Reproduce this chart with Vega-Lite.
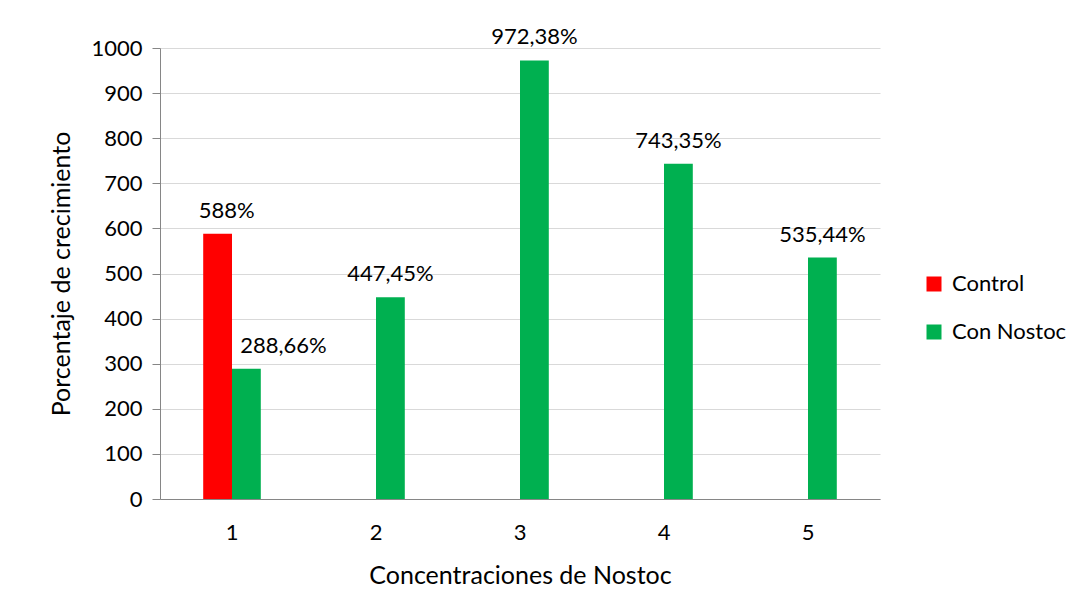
{
  "$schema": "https://vega.github.io/schema/vega-lite/v6.json",
  "width": 720,
  "height": 451,
  "autosize": {"type": "none"},
  "padding": {"left": 160, "top": 48, "right": 212, "bottom": 108},
  "background": "white",
  "config": {
    "font": "Lato",
    "view": {"stroke": null},
    "axis": {"labelFont": "Lato", "titleFont": "Lato", "labelColor": "#000", "titleColor": "#000", "titleFontWeight": "normal"}
  },
  "data": {
    "values": [
      {"conc": "1", "serie": "Control", "valor": 588, "etiqueta": "588%"},
      {"conc": "1", "serie": "Con Nostoc", "valor": 288.66, "etiqueta": "288,66%"},
      {"conc": "2", "serie": "Con Nostoc", "valor": 447.45, "etiqueta": "447,45%"},
      {"conc": "3", "serie": "Con Nostoc", "valor": 972.38, "etiqueta": "972,38%"},
      {"conc": "4", "serie": "Con Nostoc", "valor": 743.35, "etiqueta": "743,35%"},
      {"conc": "5", "serie": "Con Nostoc", "valor": 535.44, "etiqueta": "535,44%"}
    ]
  },
  "encoding": {
    "x": {
      "field": "conc", "type": "nominal",
      "scale": {"paddingInner": 0.6, "paddingOuter": 0.3},
      "axis": {
        "title": "Concentraciones de Nostoc", "labelAngle": 0, "labelFontSize": 22, "titleFontSize": 25,
        "ticks": false, "labelPadding": 23, "titlePadding": 20, "domainColor": "#868686", "grid": false
      }
    },
    "xOffset": {"field": "serie", "type": "nominal", "scale": {"domain": ["Control", "Con Nostoc"]}},
    "y": {
      "field": "valor", "type": "quantitative",
      "scale": {"domain": [0, 1000]},
      "axis": {
        "title": "Porcentaje de crecimiento", "values": [0,100,200,300,400,500,600,700,800,900,1000], "format": "d",
        "labelFontSize": 22, "titleFontSize": 25, "tickSize": 8, "tickColor": "#868686",
        "domainColor": "#868686", "gridColor": "#d9d9d9", "labelPadding": 10, "titlePadding": 16
      }
    }
  },
  "layer": [
    {
      "mark": {"type": "bar"},
      "encoding": {
        "color": {
          "field": "serie", "type": "nominal",
          "scale": {"domain": ["Control", "Con Nostoc"], "range": ["#ff0000", "#00b050"]},
          "legend": {
            "title": null, "orient": "none", "legendX": 763, "legendY": 225,
            "symbolType": "square", "symbolSize": 225, "symbolStrokeWidth": 0,
            "labelFontSize": 22, "labelFont": "Lato", "labelColor": "#000", "rowPadding": 26, "labelOffset": 7
          }
        }
      }
    },
    {
      "transform": [{"filter": "datum.conc != '1'"}],
      "mark": {"type": "text", "baseline": "bottom", "dy": -11, "fontSize": 22},
      "encoding": {"text": {"field": "etiqueta"}}
    },
    {
      "transform": [{"filter": "datum.conc == '1' && datum.serie == 'Control'"}],
      "mark": {"type": "text", "baseline": "bottom", "dy": -11, "dx": 9, "fontSize": 22},
      "encoding": {"text": {"field": "etiqueta"}}
    },
    {
      "transform": [{"filter": "datum.conc == '1' && datum.serie == 'Con Nostoc'"}],
      "mark": {"type": "text", "baseline": "bottom", "dy": -11, "dx": 37, "fontSize": 22},
      "encoding": {"text": {"field": "etiqueta"}}
    }
  ]
}
